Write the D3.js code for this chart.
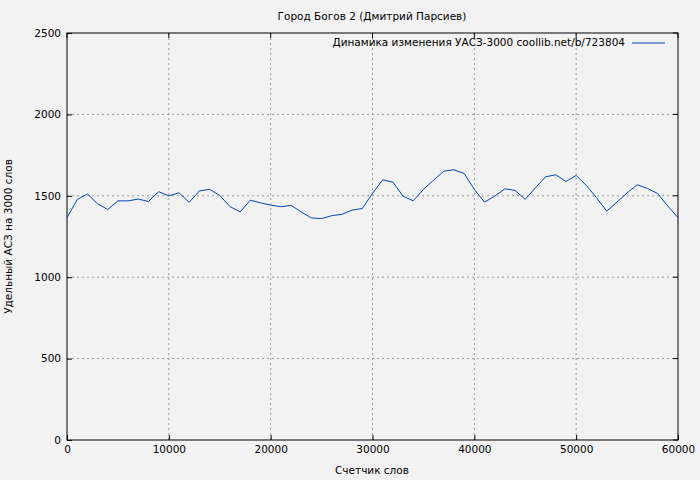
<!DOCTYPE html>
<html><head><meta charset="utf-8">
<script src="https://cdn.jsdelivr.net/npm/d3@7"></script>
<style>body{margin:0;background:#f2f2f2}text{font-family:"DejaVu Sans",sans-serif;font-size:10.5px;fill:#000}</style>
</head><body><svg id="c" width="700" height="480"></svg>
<script>
const xStep = 1000;
const values = [1365,1477,1512,1451,1416,1469,1469,1480,1465,1525,1500,1518,1460,1530,1540,1502,1434,1401,1473,1457,1443,1433,1441,1401,1364,1360,1378,1386,1412,1422,1515,1598,1584,1498,1469,1539,1596,1651,1660,1637,1539,1461,1498,1543,1533,1478,1549,1617,1629,1588,1625,1564,1488,1406,1461,1518,1568,1545,1514,1437,1365];
const xTicks = [0,10000,20000,30000,40000,50000,60000];
const yTicks = [0,500,1000,1500,2000,2500];
const title = "Город Богов 2 (Дмитрий Парсиев)";
const legendLabel = "Динамика изменения УАСЗ-3000 coollib.net/b/723804";

const svg = d3.select("#c");
const m = {l:67, r:22, t:33, b:40};
const W = 700, H = 480;
const x = d3.scaleLinear().domain([0,60000]).range([m.l, W-m.r]);
const y = d3.scaleLinear().domain([0,2500]).range([H-m.b, m.t]);

svg.append("rect").attr("width",W).attr("height",H).attr("fill","#f2f2f2");

const grid = svg.append("g").attr("stroke","#999").attr("stroke-dasharray","2,3");
xTicks.slice(1,-1).forEach(t=>grid.append("line").attr("x1",x(t)).attr("x2",x(t)).attr("y1",m.t).attr("y2",H-m.b));
yTicks.slice(1,-1).forEach(t=>grid.append("line").attr("x1",m.l).attr("x2",W-m.r).attr("y1",y(t)).attr("y2",y(t)));

svg.append("rect").attr("x",m.l).attr("y",m.t).attr("width",W-m.l-m.r).attr("height",H-m.t-m.b)
  .attr("fill","none").attr("stroke","#000");

const xa = svg.append("g").attr("transform",`translate(0,${H-m.b})`)
  .call(d3.axisBottom(x).tickValues(xTicks).tickFormat(d3.format("d")).tickSize(-5).tickPadding(6));
const ya = svg.append("g").attr("transform",`translate(${m.l},0)`)
  .call(d3.axisLeft(y).tickValues(yTicks).tickFormat(d3.format("d")).tickSize(-5).tickPadding(6));
[xa,ya].forEach(a=>{a.select(".domain").remove();a.selectAll("text").style("font-family","DejaVu Sans").style("font-size","10.5px");});
yTicks.forEach(t=>svg.append("line").attr("x1",W-m.r).attr("x2",W-m.r-5).attr("y1",y(t)).attr("y2",y(t)).attr("stroke","#000"));
xTicks.forEach(t=>svg.append("line").attr("x1",x(t)).attr("x2",x(t)).attr("y1",m.t).attr("y2",m.t+5).attr("stroke","#000"));

svg.append("path").datum(values)
  .attr("fill","none").attr("stroke","#0047b3").attr("stroke-width",1)
  .attr("d",d3.line().x((d,i)=>x(i*xStep)).y(d=>y(d)));

svg.append("text").attr("x",372).attr("y",20).attr("text-anchor","middle").text(title);
svg.append("text").attr("x",372).attr("y",474).attr("text-anchor","middle").text("Счетчик слов");
svg.append("text").attr("transform",`translate(12,${(m.t+H-m.b)/2}) rotate(-90)`).attr("text-anchor","middle").text("Удельный АСЗ на 3000 слов");

svg.append("text").attr("x",625).attr("y",46).attr("text-anchor","end").text(legendLabel);
svg.append("line").attr("x1",632).attr("x2",665).attr("y1",43).attr("y2",43).attr("stroke","#0047b3");
</script></body></html>
